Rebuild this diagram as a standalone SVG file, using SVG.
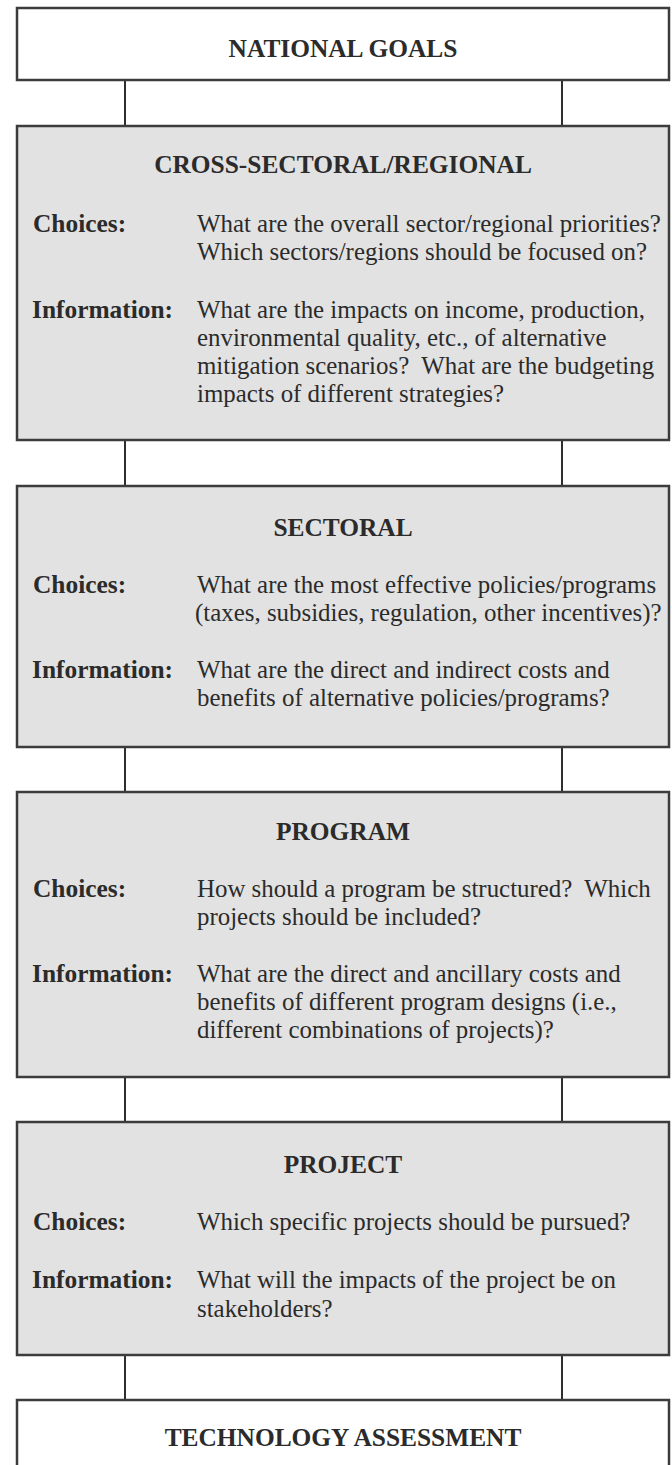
<svg xmlns="http://www.w3.org/2000/svg" width="672" height="1465" viewBox="0 0 672 1465">
<style>
.box{stroke:#3c3c3c;stroke-width:2.5}
.white{fill:#ffffff}
.gray{fill:#e2e2e2}
.conn{stroke:#2e2e2e;stroke-width:2;fill:none}
text{font-family:"Liberation Serif","Times New Roman",serif;font-size:24.9px;fill:#2b2b2b}
.title{font-weight:bold;text-anchor:middle;font-size:25.4px}
.lbl{font-weight:bold;font-size:25.4px}
</style>
<rect width="672" height="1465" fill="#ffffff"/>
<g id="connectors">
<line class="conn" x1="125" y1="80" x2="125" y2="126"/>
<line class="conn" x1="562" y1="80" x2="562" y2="126"/>
<line class="conn" x1="125" y1="440" x2="125" y2="486"/>
<line class="conn" x1="562" y1="440" x2="562" y2="486"/>
<line class="conn" x1="125" y1="747" x2="125" y2="792"/>
<line class="conn" x1="562" y1="747" x2="562" y2="792"/>
<line class="conn" x1="125" y1="1077" x2="125" y2="1122"/>
<line class="conn" x1="562" y1="1077" x2="562" y2="1122"/>
<line class="conn" x1="125" y1="1355" x2="125" y2="1400"/>
<line class="conn" x1="562" y1="1355" x2="562" y2="1400"/>
</g>
<g id="national-goals">
<rect class="box white" x="17" y="8" width="652" height="72"/>
<text class="title" x="343" y="57">NATIONAL GOALS</text>
</g>
<g id="cross-sectoral">
<rect class="box gray" x="17" y="126" width="652" height="314"/>
<text class="title" x="343" y="173">CROSS-SECTORAL/REGIONAL</text>
<text class="lbl" x="33" y="232">Choices:</text>
<text x="197" y="232">What are the overall sector/regional priorities?</text>
<text x="197" y="260">Which sectors/regions should be focused on?</text>
<text class="lbl" x="32" y="318">Information:</text>
<text x="197" y="318">What are the impacts on income, production,</text>
<text x="197" y="346">environmental quality, etc., of alternative</text>
<text x="197" y="374">mitigation scenarios?&#160; What are the budgeting</text>
<text x="197" y="402">impacts of different strategies?</text>
</g>
<g id="sectoral">
<rect class="box gray" x="17" y="486" width="652" height="261"/>
<text class="title" x="343" y="536">SECTORAL</text>
<text class="lbl" x="33" y="593">Choices:</text>
<text x="197" y="593">What are the most effective policies/programs</text>
<text x="195" y="621">(taxes, subsidies, regulation, other incentives)?</text>
<text class="lbl" x="32" y="678">Information:</text>
<text x="197" y="678">What are the direct and indirect costs and</text>
<text x="197" y="706">benefits of alternative policies/programs?</text>
</g>
<g id="program">
<rect class="box gray" x="17" y="792" width="652" height="285"/>
<text class="title" x="343" y="840">PROGRAM</text>
<text class="lbl" x="33" y="897">Choices:</text>
<text x="197" y="897">How should a program be structured?&#160; Which</text>
<text x="197" y="925">projects should be included?</text>
<text class="lbl" x="32" y="982">Information:</text>
<text x="197" y="982">What are the direct and ancillary costs and</text>
<text x="197" y="1010">benefits of different program designs (i.e.,</text>
<text x="197" y="1038">different combinations of projects)?</text>
</g>
<g id="project">
<rect class="box gray" x="17" y="1122" width="652" height="233"/>
<text class="title" x="343" y="1173">PROJECT</text>
<text class="lbl" x="33" y="1230">Choices:</text>
<text x="197" y="1230">Which specific projects should be pursued?</text>
<text class="lbl" x="32" y="1288">Information:</text>
<text x="197" y="1288">What will the impacts of the project be on</text>
<text x="197" y="1317">stakeholders?</text>
</g>
<g id="technology-assessment">
<rect class="box white" x="17" y="1400" width="652" height="90"/>
<text class="title" x="343" y="1446">TECHNOLOGY ASSESSMENT</text>
</g>
</svg>
